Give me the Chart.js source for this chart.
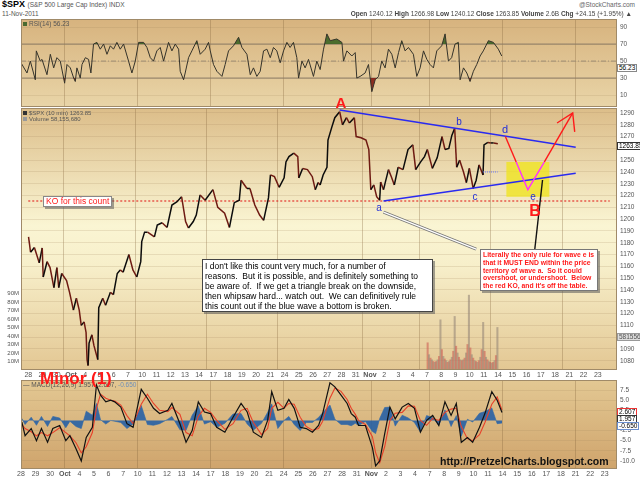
<!DOCTYPE html>
<html>
<head>
<meta charset="utf-8">
<title>$SPX 10 min</title>
<script src="https://cdn.jsdelivr.net/npm/chart.js@4.4.1/dist/chart.umd.min.js"></script>
<style>
  html, body { margin: 0; padding: 0; background: #fff; }
  body { position: relative; width: 640px; height: 479px; overflow: hidden; font-family: "Liberation Sans", Arial, sans-serif; }
  .pane { position: absolute; left: 0; width: 640px; }
  .t { position: absolute; white-space: nowrap; line-height: 1; }
  .lbl { position: absolute; transform: translate(-50%, -50%); line-height: 1; white-space: nowrap; }
  .tag { position: absolute; left: 617px; font-size: 6.5px; line-height: 6px; padding: 0 1px; background: #fff; }
  .box { position: absolute; background: #fff; box-shadow: 2px 2px 0 rgba(90,90,90,0.55); white-space: pre; }
</style>
</head>
<body>
<canvas id="rsi" class="pane" width="640" height="88" style="top:19px"></canvas>
<canvas id="main" class="pane" width="640" height="272" style="top:108px"></canvas>
<canvas id="macd" class="pane" width="640" height="100" style="top:379px"></canvas>

<!-- header -->
<div class="t" style="left:2px;top:0px;font-size:9px;font-weight:bold">$SPX <span style="font-weight:normal;font-size:6.5px;color:#555">(S&amp;P 500 Large Cap Index) INDX</span></div>
<div class="t" style="right:5px;top:2px;font-size:6.5px;color:#666">@StockCharts.com</div>
<div class="t" style="left:2px;top:11px;font-size:6.5px;color:#555">11-Nov-2011</div>
<div class="t" style="right:8px;top:11px;font-size:6.5px;color:#444"><b>Open</b> 1240.12 <b>High</b> 1266.98 <b>Low</b> 1240.12 <b>Close</b> 1263.85 <b>Volume</b> 2.6B <b>Chg</b> +24.15 (+1.95%) &#9650;</div>

<!-- panel legends -->
<div class="t" style="left:23px;top:21px;font-size:6.5px;color:#555"><span style="display:inline-block;width:4px;height:4px;background:#4a6a30;margin-right:2px"></span>RSI(14) 56.23</div>
<div class="t" style="left:23px;top:110px;font-size:6px;color:#555"><span style="display:inline-block;width:4px;height:4px;background:#333;margin-right:2px"></span>$SPX (10 min) 1263.85</div>
<div class="t" style="left:23px;top:116px;font-size:6px;color:#555"><span style="display:inline-block;width:4px;height:4px;background:#999;margin-right:2px"></span>Volume 58,155,680</div>
<div class="t" style="left:23px;top:382px;font-size:6.5px;color:#555">&#8212; MACD(12,26,9) 1.957, 2.607, <span style="color:#6f8fb8">-0.650</span></div>

<!-- right value tags -->
<div class="tag" style="top:64px;border:1px solid #888">56.23</div>
<div class="tag" style="top:142px;border:1px solid #333">1263.85</div>
<div class="tag" style="top:333px;border:1px solid #999;background:#ddd;color:#555">58155680</div>
<div class="tag" style="top:408px;border:1px solid #e33">2.607</div>
<div class="tag" style="top:415px;border:1px solid #333">1.957</div>
<div class="tag" style="top:422px;border:1px solid #6a8fd0">-0.650</div>

<!-- annotations -->
<div class="lbl" style="left:341px;top:102px;font-size:15px;font-weight:bold;color:#ff1a1a">A</div>
<div class="lbl" style="left:535px;top:211px;font-size:16px;font-weight:bold;color:#ff1a1a">B</div>
<div class="lbl" style="left:379px;top:208px;font-size:10px;color:#2430d8">a</div>
<div class="lbl" style="left:459px;top:122px;font-size:10px;color:#2430d8">b</div>
<div class="lbl" style="left:475px;top:197px;font-size:10px;color:#2430d8">c</div>
<div class="lbl" style="left:505px;top:129px;font-size:11px;color:#2430d8">d</div>
<div class="lbl" style="left:533px;top:197px;font-size:10px;color:#2430d8">e</div>
<div class="t" style="left:40px;top:370px;font-size:17px;font-weight:bold;color:#ff1a1a">Minor (1)</div>

<div class="box" style="left:43px;top:196px;height:9px;padding:0 2px;border:1px solid #888;font-size:8.5px;line-height:9px;color:#ff1a1a">KO for this count</div>

<div class="box" style="left:202px;top:259px;width:225px;height:49px;padding:1px 2px;border:1px solid #444;font-size:8.5px;line-height:10px;color:#000">I don't like this count very much, for a number of
reasons.  But it is possible, and is definitely something to
be aware of.  If we get a triangle break on the downside,
then whipsaw hard... watch out.  We can definitively rule
this count out if the blue wave a bottom is broken.</div>

<div class="box" style="left:480px;top:249px;width:112px;height:38px;padding:1px 2px;border:1px solid #777;font-size:6.8px;line-height:7.8px;font-weight:bold;color:#ff1a1a">Literally the only rule for wave e is
that it MUST END within the price
territory of wave a.  So it could
overshoot, or undershoot.  Below
the red KO, and it's off the table.</div>

<div class="t" style="left:440px;top:456px;font-size:10.5px;font-weight:bold;color:#111">http://PretzelCharts.blogspot.com</div>

<script>
// trading days 28 Sep .. 23 Nov 2011, one tick per day
const dayLabels = ['28','29','30','Oct','4','5','6','7','10','11','12','13','14','17','18','19','20','21','24','25','26','27','28','31','Nov','2','3','4','7','8','9','10','11','14','15','16','17','18','21','22','23'];
const weekStarts = [3, 8, 13, 18, 24, 28, 33, 38];

const rsiTicks = [10, 30, 50, 70, 90];
const rsiLevels = [70, 50, 30];
const priceTicks = [1080, 1090, 1100, 1110, 1120, 1130, 1140, 1150, 1160, 1170, 1180, 1190, 1200, 1210, 1220, 1230, 1240, 1250, 1260, 1270, 1280, 1290];
const volTicks = [10e6, 20e6, 30e6, 40e6, 50e6, 60e6, 70e6, 80e6, 90e6];
const macdTicks = [7.5, 5, 2.5, -2.5, -5, -7.5, -10];

// $SPX 10 min, position in trading days and price
const priceT = [0.02,0.16,0.43,0.77,0.98,1.05,1.32,1.53,1.8,2.01,
  2.14,2.35,2.69,2.9,3.17,3.38,3.58,3.72,3.92,4.06,
  4.13,4.2,4.27,4.47,4.61,4.88,4.95,5.23,5.43,5.77,
  5.98,6.25,6.46,6.66,7.07,7.35,7.62,7.9,7.97,8.17,
  8.38,8.86,9.06,9.4,9.75,10.09,10.43,10.77,11.05,11.25,
  11.59,11.8,12.07,12.42,12.97,13.31,13.79,14.13,14.47,14.82,
  14.95,15.36,15.57,15.91,16.25,16.53,16.87,17.01,17.29,17.62,
  17.97,18.1,18.31,18.65,18.93,19.0,19.27,19.61,19.95,20.16,
  20.36,20.5,20.71,20.98,21.05,21.32,21.53,21.87,22.07,22.35,
  22.55,22.9,23.03,23.38,23.72,23.92,24.06,24.27,24.47,24.68,
  24.75,24.95,25.3,25.5,25.71,25.98,26.32,26.67,27.01,27.21,
  27.56,27.83,28.03,28.38,28.72,29.06,29.27,29.54,29.75,29.95,
  30.09,30.3,30.57,30.77,30.98,31.25,31.46,31.66,31.94,32.01,
  32.28,32.49,32.69,32.98];
const priceV = [1185,1172,1176,1163,1175.6,1151,1164,1159,1142,1159,
  1142,1154,1148,1138,1123,1133,1123,1110,1113,1104,
  1081,1076,1095,1102,1093,1081,1125,1133,1127,1138,
  1136,1154,1157,1155,1170,1157,1151,1164,1181,1189,
  1189,1185,1195,1197,1193,1212,1214.6,1219,1198,1192.5,
  1198,1203.5,1220.5,1216,1225,1210,1205,1193,1214,1216,
  1233,1226,1226,1212,1203.5,1199,1218,1237.5,1236,1227,
  1235,1248.5,1253,1256,1253,1235,1243,1242,1236,1225,
  1231,1229,1237.5,1244,1267,1278,1286,1291,1280,1286,
  1281.5,1286,1270,1269,1267,1259,1225,1229,1219,1216,
  1231.5,1225,1242,1236,1229,1244,1242,1259,1263,1242,
  1248.5,1253,1259,1243,1252,1270,1259,1260,1271,1277,
  1244,1250,1240,1231,1243,1226,1233,1246,1237.5,1263,
  1265,1264.6,1264.6,1263.9];

// volume (millions), ten slots per session, 7-11 Nov
const volDays = [28, 29, 30, 31, 32];
const vol7  = [32, 18, 14, 12, 10, 9, 10, 12, 16, 59];
const vol8  = [24, 16, 13, 11, 9, 10, 12, 15, 22, 63];
const vol9  = [28, 20, 15, 12, 11, 12, 14, 20, 30, 88];
const vol10 = [26, 18, 14, 11, 10, 9, 11, 15, 24, 56];
const vol11 = [22, 15, 12, 10, 9, 8, 9, 11, 17, 50];

// RSI(14)
const rsiT = [0,0.41,0.64,0.98,1.05,1.32,1.44,1.78,2.01,2.24,
  2.46,2.69,2.99,3.15,3.38,3.61,3.72,3.83,4.06,4.18,
  4.41,4.63,4.79,4.97,5.2,5.43,5.66,5.89,6.12,6.34,
  6.57,6.8,7.03,7.37,7.6,7.83,8.06,8.4,8.63,8.86,
  9.08,9.31,9.54,9.77,10.11,10.34,10.57,10.8,10.91,11.14,
  11.25,11.48,11.71,12.05,12.28,12.62,12.85,12.97,13.19,13.42,
  13.77,13.99,14.22,14.56,14.91,15.14,15.48,15.71,15.93,16.16,
  16.39,16.62,16.85,17.08,17.3,17.53,17.76,17.99,18.22,18.44,
  18.67,18.9,19.02,19.25,19.47,19.7,20.04,20.27,20.5,20.73,
  20.96,21.19,21.64,21.99,22.1,22.33,22.67,22.9,23.01,23.24,
  23.58,23.81,24.04,24.27,24.5,24.72,24.95,25.18,25.41,25.64,
  25.87,26.09,26.32,26.55,26.89,27.12,27.35,27.58,27.81,28.03,
  28.26,28.49,28.83,29.06,29.29,29.51,29.74,29.97,30.09,30.32,
  30.55,30.77,31.0,31.23,31.46,31.68,32.03,32.37,32.71,32.94];
const rsiV = [48,36,50,28,62,50,52,34,58,42,
  54,50,24,46,42,30,26,42,30,46,
  54,52,36,70,72,64,70,58,68,64,
  72,64,70,50,36,50,72,72,66,54,
  50,62,66,50,72,62,70,64,38,28,
  36,54,62,74,58,64,72,62,46,38,
  32,46,62,68,78,66,58,34,42,32,
  38,62,64,54,66,62,48,62,72,66,
  72,54,30,50,42,52,32,50,40,64,
  82,74,76,72,50,62,56,60,30,32,
  36,46,14,28,32,50,42,64,58,42,
  60,74,62,66,58,32,42,62,52,46,
  42,62,68,82,50,54,70,72,28,42,
  36,26,38,46,56,62,74,72,64,56];

// MACD(12,26,9)
const macdT = [0.06,0.28,0.7,1.06,1.4,1.82,2.18,2.65,3.07,3.35,
  3.77,4.13,4.47,4.89,5.17,5.45,5.81,6.15,6.42,6.84,
  7.26,7.68,8.24,8.66,9.08,9.5,10.06,10.34,10.89,11.31,
  11.73,12.15,12.57,12.99,13.41,13.97,14.53,15.08,15.5,15.92,
  16.48,16.9,17.18,17.6,18.02,18.35,18.72,19.13,19.55,19.97,
  20.39,20.67,21.17,21.51,21.93,22.35,22.63,22.91,23.13,23.6,
  24.08,24.3,24.58,24.92,25.28,25.64,26.12,26.54,26.96,27.37,
  27.79,28.21,28.63,29.05,29.47,29.83,30.17,30.59,30.95,31.42,
  31.79,32.26,32.63,32.96];
const macdV = [-0.4,-3.75,-2,-5,-2,-5.4,-2,-1.25,-5,-3.75,
  -7,-10,-4.2,-1.7,8.75,6.25,4.6,5,4.6,3.3,
  -0.8,-1.7,7.7,5.5,3,1.7,2.5,4.2,-0.8,-5.4,
  -2.5,4.6,2.1,1.7,-1.7,-2.9,0.8,4.2,2.1,-2.9,
  -4.2,0,7.1,2.5,3,5.2,3,-1.7,-2,-2.9,
  -1.25,1.7,9.3,8.3,6.25,4.2,1.7,0.8,-1.25,-1.25,
  -6.7,-11.25,-10,-3.3,3.3,0.4,3.3,4.2,3,-2.9,
  0,1.25,-1.25,4.6,1.25,4.2,-5.4,-4.2,-5.4,-1.7,
  1.7,7.1,5,1.96];
const signalV = [-1.0,-2.0,-2.8,-3.8,-3.0,-3.8,-3.0,-1.8,-3.0,-3.8,
  -5.5,-8.0,-6.5,-3.0,3.0,6.5,5.5,5.0,4.8,3.8,
  1.2,-0.8,4.0,6.5,4.2,2.5,2.2,3.2,1.5,-3.0,
  -3.8,1.0,3.0,2.0,0.0,-2.2,-0.8,2.5,3.0,-0.5,
  -3.5,-2.0,3.0,4.5,3.0,4.2,4.0,0.8,-1.5,-2.4,
  -2.0,-0.2,5.5,8.0,7.2,5.2,3.0,1.5,0.0,-1.0,
  -4.0,-8.0,-10.5,-6.5,0.0,1.8,2.0,3.6,3.5,0.0,
  -1.2,0.5,0.0,2.0,2.8,3.0,-1.5,-4.5,-5.0,-3.5,
  -0.5,4.0,5.8,2.61];
const histV = [0.5,-1.0,0.8,-1.2,1.0,-1.5,1.0,0.6,-1.8,-0.2,
  -1.5,-2.0,2.3,1.3,4.2,0.2,-0.9,0,-0.2,-0.5,
  -2.0,-0.9,3.7,-1.0,-1.2,-0.8,0.3,1.0,-2.3,-2.4,
  1.3,3.6,-0.9,-0.3,-1.7,-0.7,1.6,1.7,-0.9,-2.4,
  -0.7,2.0,4.1,-2.0,0,1.0,-1.0,-2.5,-0.5,-0.5,
  0.75,1.9,3.8,0.3,-1.0,-1.0,-1.3,-0.7,-1.25,-0.25,
  -2.7,-3.25,0.5,3.2,3.3,-1.4,1.3,0.6,-0.5,-2.9,
  1.2,0.75,-1.25,2.6,-1.5,1.2,-3.9,0.3,-0.4,1.8,
  2.2,3.1,-0.8,-0.65];

// drawn-in count: triangle lines, KO level, projected d-e path
const upperLine = [{x: 21.87, y: 1292.5}, {x: 38.45, y: 1261}];
const lowerLine = [{x: 24.95, y: 1215.4}, {x: 38.45, y: 1239}];
const koLine = [{x: 0, y: 1215.4}, {x: 40.84, y: 1215.4}];
const openLine = [{x: 31.94, y: 1240}, {x: 32.97, y: 1240}];
const pathDE = [{x: 33.51, y: 1270}, {x: 34.27, y: 1248.5}, {x: 35.09, y: 1225}, {x: 36.25, y: 1248.5}, {x: 38.24, y: 1290}];
const arrowL = [{x: 37.14, y: 1281.5}, {x: 38.24, y: 1290}, {x: 38.38, y: 1274}];
const eZone = {x0: 33.58, x1: 36.6, y0: 1219, y1: 1248.5};
const calloutA = [{x: 24.95, y: 1206}, {x: 31.46, y: 1174.7}];
const calloutE = [{x: 35.57, y: 1173.9}, {x: 36.12, y: 1233.2}];

const FONT = '"Liberation Sans", Arial, sans-serif';
Chart.defaults.font.family = FONT;
Chart.defaults.animation = false;

function pts(xs, ys) { return xs.map((x, i) => ({x: x, y: ys[i]})); }

const panelBg = {
  id: 'panelBg',
  beforeDraw(chart, args, opts) {
    const a = chart.chartArea, ctx = chart.ctx;
    const g = ctx.createLinearGradient(0, a.top, 0, a.bottom);
    opts.stops.forEach(s => g.addColorStop(s[0], s[1]));
    ctx.save();
    ctx.fillStyle = g;
    ctx.fillRect(a.left, a.top, a.right - a.left, a.bottom - a.top);
    ctx.restore();
  },
  afterDraw(chart) {
    const a = chart.chartArea, ctx = chart.ctx;
    ctx.save();
    ctx.strokeStyle = '#a08a68';
    ctx.lineWidth = 1;
    ctx.strokeRect(a.left + 0.5, a.top + 0.5, a.right - a.left - 1, a.bottom - a.top - 1);
    ctx.restore();
  }
};

function xAxis(labels) {
  return {
    type: 'linear', min: 0, max: 40.84,
    afterBuildTicks: s => { s.ticks = dayLabels.map((d, i) => ({value: i})); },
    afterFit: s => { s.height = labels ? 9 : 0; s.paddingLeft = 0; s.paddingRight = 0; },
    border: {display: false},
    grid: {
      drawTicks: false,
      color: c => (c.tick && weekStarts.includes(c.tick.value)) ? 'rgba(130,100,60,0.32)' : 'rgba(0,0,0,0)'
    },
    ticks: {
      display: labels, autoSkip: false, maxRotation: 0, padding: 1, color: '#555',
      font: c => ({size: 7, weight: (c.tick && isNaN(dayLabels[c.tick.value])) ? 'bold' : 'normal'}),
      callback: v => dayLabels[Math.round(v)]
    }
  };
}

function yRight(min, max, ticks, fmt, gridColor) {
  return {
    position: 'right', min: min, max: max,
    afterBuildTicks: s => { s.ticks = ticks.map(v => ({value: v})); },
    afterFit: s => { s.width = 23; s.paddingTop = 0; s.paddingBottom = 0; },
    border: {display: false},
    grid: {drawTicks: false, color: gridColor},
    ticks: {padding: 3, color: '#555', font: {size: 6.5}, callback: fmt}
  };
}

const common = {
  responsive: false,
  events: [],
  elements: {point: {radius: 0}, line: {tension: 0}},
  plugins: {legend: {display: false}, tooltip: {enabled: false}}
};

// ---- RSI panel
new Chart(document.getElementById('rsi'), {
  type: 'line',
  plugins: [panelBg],
  data: {
    datasets: [
      {data: pts(rsiT, rsiV), borderColor: '#35332a', borderWidth: 1, order: 1},
      {data: pts(rsiT, rsiV), borderWidth: 0, order: 2,
        fill: {target: {value: 70}, above: 'rgba(60,100,35,0.9)', below: 'rgba(0,0,0,0)'}},
      {data: pts(rsiT, rsiV), borderWidth: 0, order: 3,
        fill: {target: {value: 30}, above: 'rgba(0,0,0,0)', below: 'rgba(130,30,20,0.9)'}},
      {data: [{x: 0, y: rsiLevels[0]}, {x: 40.84, y: rsiLevels[0]}], borderColor: '#8b7b66', borderWidth: 1, order: 5},
      {data: [{x: 0, y: rsiLevels[1]}, {x: 40.84, y: rsiLevels[1]}], borderColor: '#9d8c74', borderWidth: 1, borderDash: [5, 2, 1, 2], order: 5},
      {data: [{x: 0, y: rsiLevels[2]}, {x: 40.84, y: rsiLevels[2]}], borderColor: '#8b7b66', borderWidth: 1, order: 5}
    ]
  },
  options: Object.assign({}, common, {
    layout: {padding: {left: 21, top: 0, bottom: 0, right: 0}},
    plugins: Object.assign({}, common.plugins, {panelBg: {stops: [[0, '#d7b37e'], [1, '#e9d5a8']]}}),
    scales: {
      x: xAxis(false),
      y: yRight(-4, 99.5, rsiTicks, v => String(v), 'rgba(150,120,80,0.15)')
    }
  })
});

// ---- price + volume panel
const eMarks = {
  id: 'eMarks',
  beforeDatasetsDraw(chart) {
    const x = chart.scales.x, y = chart.scales.y, ctx = chart.ctx;
    ctx.save();
    ctx.fillStyle = 'rgba(240,228,30,0.78)';
    const l = x.getPixelForValue(eZone.x0), r = x.getPixelForValue(eZone.x1);
    const t = y.getPixelForValue(eZone.y1), b = y.getPixelForValue(eZone.y0);
    ctx.fillRect(l, t, r - l, b - t);
    ctx.restore();
  },
  afterDatasetsDraw(chart) {
    const x = chart.scales.x, y = chart.scales.y, ctx = chart.ctx;
    const seg = (p, color, w) => {
      ctx.strokeStyle = color; ctx.lineWidth = w;
      ctx.beginPath();
      ctx.moveTo(x.getPixelForValue(p[0].x), y.getPixelForValue(p[0].y));
      ctx.lineTo(x.getPixelForValue(p[1].x), y.getPixelForValue(p[1].y));
      ctx.stroke();
    };
    ctx.save();
    seg(calloutA, '#777', 3);
    seg(calloutA, '#fff', 1.3);
    seg(calloutE, '#111', 1.4);
    ctx.restore();
  }
};

const volData = [];
[vol7, vol8, vol9, vol10, vol11].forEach((day, d) => {
  day.forEach((v, k) => volData.push({x: volDays[d] + (k + 0.5) / day.length, y: v * 1e6}));
});

new Chart(document.getElementById('main'), {
  type: 'line',
  plugins: [panelBg, eMarks],
  data: {
    datasets: [
      {type: 'bar', data: volData, yAxisID: 'vol', barThickness: 1.4, order: 20,
        backgroundColor: c => c.dataIndex % 2 ? 'rgba(150,135,120,0.6)' : 'rgba(205,95,85,0.6)'},
      {data: koLine, borderColor: '#e01010', borderWidth: 1.2, borderDash: [2, 2], order: 8},
      {data: pts(priceT, priceV), borderWidth: 1.5, order: 5,
        segment: {borderColor: c => c.p1.parsed.y < c.p0.parsed.y ? '#6e1a12' : '#0c0c0c'}},
      {data: upperLine, borderColor: '#2a2af0', borderWidth: 1.5, order: 3},
      {data: lowerLine, borderColor: '#2a2af0', borderWidth: 1.5, order: 3},
      {data: openLine, borderColor: '#6070ff', borderWidth: 1, borderDash: [1, 1], order: 3},
      {data: pathDE, borderWidth: 1.4, order: 2,
        segment: {borderColor: c => (c.p0DataIndex === 1 || c.p0DataIndex === 2) ? '#ff30ff' : '#ff1a1a'}},
      {data: arrowL, borderColor: '#ff1a1a', borderWidth: 1.4, order: 2}
    ]
  },
  options: Object.assign({}, common, {
    layout: {padding: {bottom: 1}},
    plugins: Object.assign({}, common.plugins, {panelBg: {stops: [[0, '#dcbd89'], [0.45, '#faf5d3'], [0.6, '#f7efca'], [1, '#e3c793']]}}),
    scales: {
      x: xAxis(true),
      y: yRight(1072.2, 1294.2, priceTicks, v => String(v), 'rgba(165,135,95,0.2)'),
      vol: {
        position: 'left', min: 0, max: 308e6,
        afterBuildTicks: s => { s.ticks = volTicks.map(v => ({value: v})); },
        afterFit: s => { s.width = 21; s.paddingTop = 0; s.paddingBottom = 0; },
        border: {display: false},
        grid: {drawOnChartArea: false, drawTicks: false},
        ticks: {padding: 2, color: '#555', font: {size: 6}, callback: v => (v / 1e6) + 'M'}
      }
    }
  })
});

// ---- MACD panel
new Chart(document.getElementById('macd'), {
  type: 'line',
  plugins: [panelBg],
  data: {
    datasets: [
      {data: pts(macdT, histV), borderColor: '#2d66a8', borderWidth: 0.6, backgroundColor: 'rgba(38,96,165,0.9)', fill: 'origin', order: 5},
      {data: pts(macdT, signalV), borderColor: '#e8402a', borderWidth: 1.1, order: 3},
      {data: pts(macdT, macdV), borderColor: '#111', borderWidth: 1.2, order: 2}
    ]
  },
  options: Object.assign({}, common, {
    layout: {padding: {left: 21, top: 1, bottom: 1, right: 0}},
    plugins: Object.assign({}, common.plugins, {panelBg: {stops: [[0, '#e3c893'], [1, '#cfa46c']]}}),
    scales: {
      x: xAxis(true),
      y: yRight(-12, 10, macdTicks, v => v.toFixed(1), 'rgba(150,120,80,0.15)')
    }
  })
});
</script>
</body>
</html>
